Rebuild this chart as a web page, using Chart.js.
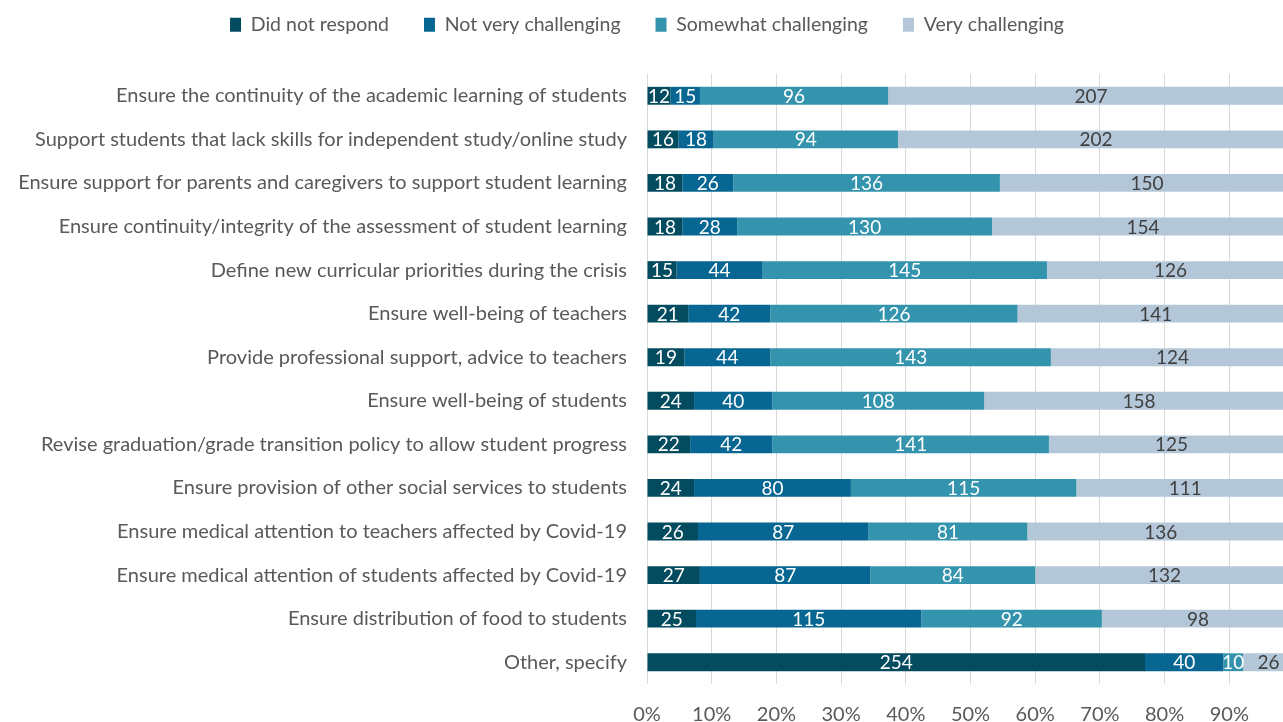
<!DOCTYPE html>
<html><head><meta charset="utf-8">
<script src="https://cdn.jsdelivr.net/npm/chart.js@4"></script>
<style>html,body{margin:0;padding:0;background:#fff;overflow:hidden}</style>
</head><body>
<canvas id="c" width="1283" height="722"></canvas>
<script>
const categories = [
  'Ensure the continuity of the academic learning of students',
  'Support students that lack skills for independent study/online study',
  'Ensure support for parents and caregivers to support student learning',
  'Ensure continuity/integrity of the assessment of student learning',
  'Define new curricular priorities during the crisis',
  'Ensure well-being of teachers',
  'Provide professional support, advice to teachers',
  'Ensure well-being of students',
  'Revise graduation/grade transition policy to allow student progress',
  'Ensure provision of other social services to students',
  'Ensure medical attention to teachers affected by Covid-19',
  'Ensure medical attention of students affected by Covid-19',
  'Ensure distribution of food to students',
  'Other, specify'
];
const seriesNames = ['Did not respond','Not very challenging','Somewhat challenging','Very challenging'];
const didNotRespond = [12,16,18,18,15,21,19,24,22,24,26,27,25,254];
const notVeryChallenging = [15,18,26,28,44,42,44,40,42,80,87,87,115,40];
const somewhatChallenging = [96,94,136,130,145,126,143,108,141,115,81,84,92,10];
const veryChallenging = [207,202,150,154,126,141,124,158,125,111,136,132,98,26];
const tickValues = [0,10,20,30,40,50,60,70,80,90];

const counts = [didNotRespond, notVeryChallenging, somewhatChallenging, veryChallenging];
const colors = ['#034b5f','#086792','#3594ad','#b4c7d9'];
const labelColors = ['#ffffff','#ffffff','#ffffff','#404040'];
const totals = categories.map((_, j) => counts.reduce((s, arr) => s + arr[j], 0));
const FONT = 'Lato';

const datasets = counts.map((arr, i) => ({
  label: seriesNames[i],
  data: arr.map((v, j) => v / totals[j] * 100),
  backgroundColor: colors[i],
  borderWidth: 0,
  barPercentage: 0.82,
  categoryPercentage: 0.5
}));

const valueLabels = {
  id: 'valueLabels',
  afterDatasetsDraw(chart) {
    const ctx = chart.ctx;
    ctx.save();
    ctx.font = '19px ' + FONT;
    ctx.textAlign = 'center';
    ctx.textBaseline = 'middle';
    chart.data.datasets.forEach((ds, i) => {
      const meta = chart.getDatasetMeta(i);
      meta.data.forEach((el, j) => {
        ctx.fillStyle = labelColors[i];
        ctx.fillText(String(counts[i][j]), (el.x + el.base) / 2, el.y + 1);
      });
    });
    ctx.restore();
  }
};

const legendShift = {
  id: 'legendShift',
  afterLayout(chart) {
    if (chart.legend) { chart.legend.top -= 29.5; chart.legend.bottom -= 29.5; }
  }
};

new Chart(document.getElementById('c'), {
  type: 'bar',
  data: { labels: categories, datasets },
  plugins: [valueLabels, legendShift],
  options: {
    indexAxis: 'y',
    responsive: false,
    animation: false,
    devicePixelRatio: 1,
    layout: { padding: { top: 9.5, bottom: 0, left: 11, right: 0 } },
    plugins: {
      legend: {
        position: 'top',
        labels: {
          boxWidth: 11, boxHeight: 14, padding: 35,
          color: '#595959', font: { family: FONT, size: 19.5 }
        }
      },
      tooltip: { enabled: false }
    },
    scales: {
      x: {
        stacked: true, min: 0, max: 98.3,
        afterBuildTicks(scale) { scale.ticks = tickValues.map(v => ({ value: v })); },
        afterFit(scale) { scale.height = 38; },
        ticks: { callback: v => v + '%', color: '#595959', font: { family: FONT, size: 20 }, padding: 19, maxRotation: 0 },
        grid: { color: '#d9d9d9', drawTicks: false },
        border: { display: false }
      },
      y: {
        stacked: true,
        afterFit(scale) { scale.width = 636; },
        ticks: { color: '#595959', font: { family: FONT, size: 20 }, padding: 20, autoSkip: false },
        grid: { display: false, drawTicks: false },
        border: { display: false }
      }
    }
  }
});
</script>
</body></html>
